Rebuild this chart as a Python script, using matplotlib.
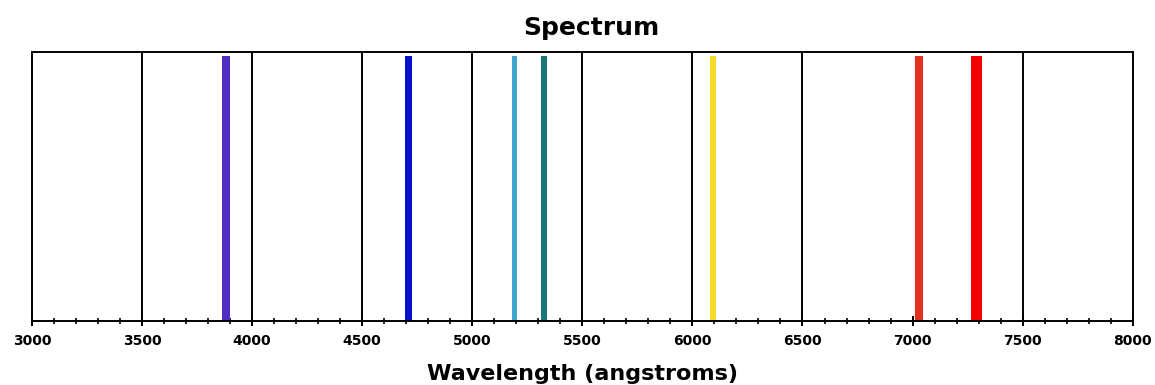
import matplotlib
matplotlib.use("Agg")
import matplotlib.pyplot as plt
from matplotlib.ticker import MultipleLocator

# Data
line_wavelengths = [3881, 4710, 5193, 5325, 6093, 7030, 7292]
line_intensity = [1, 1, 1, 1, 1, 1, 1]
line_colors = ["#4f2ec4", "#0810cc", "#3fa6d2", "#1a7878", "#f4dc2c", "#e0321e", "#f20000"]
line_widths = [36, 32, 23, 27, 27, 34, 50]
grid_positions = [3500, 4000, 4500, 5000, 5500, 6000, 6500, 7500]
tick_values = [3000, 3500, 4000, 4500, 5000, 5500, 6000, 6500, 7000, 7500, 8000]
tick_labels = [str(v) for v in tick_values]

fig = plt.figure(figsize=(11.55, 3.85), dpi=100)
ax = fig.add_axes([0.0277, 0.166, 0.953, 0.699])

for g in grid_positions:
    ax.axvline(g, color="black", lw=1.4, zorder=1)

ax.bar(line_wavelengths, [v * 0.985 for v in line_intensity], width=line_widths,
       color=line_colors, zorder=2, linewidth=0)

ax.set_xlim(3000, 8000)
ax.set_ylim(0, 1)
ax.set_yticks([])
ax.set_xticks(tick_values)
ax.set_xticklabels(tick_labels, fontsize=10, fontweight="bold")
ax.xaxis.set_minor_locator(MultipleLocator(100))
ax.tick_params(axis="x", which="major", direction="inout", length=7, width=1.4, pad=6)
ax.tick_params(axis="x", which="minor", direction="inout", length=4, width=1.2)
for s in ax.spines.values():
    s.set_linewidth(1.4)
    s.set_color("black")

ax.set_title("Spectrum", fontsize=18, fontweight="bold", pad=12, x=0.508)
ax.set_xlabel("Wavelength (angstroms)", fontsize=16, fontweight="bold", labelpad=11)

fig.savefig("out.png", dpi=100)
